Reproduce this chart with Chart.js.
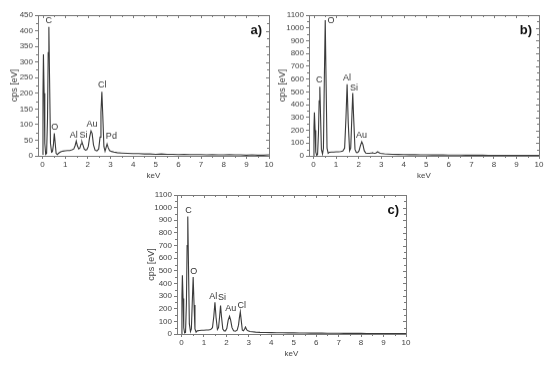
<!DOCTYPE html>
<html lang="en">
<head>
  <meta charset="UTF-8" />
  <title>EDS spectra</title>
  <style>
    body {
      margin: 0;
      padding: 0;
      background: #fff;
    }
    #wrap {
      position: relative;
      width: 554px;
      height: 367px;
      overflow: hidden;
    }
    canvas {
      position: absolute;
    }
  </style>
</head>
<body>
  <div id="wrap">
    <canvas id="chart-a"></canvas>
    <canvas id="chart-b"></canvas>
    <canvas id="chart-c"></canvas>
  </div>

  <script src="https://cdn.jsdelivr.net/npm/chart.js"></script>

  <script>
    // energy axis (keV), shared by the three spectra
    const energies = [
      0.00, 0.02, 0.04, 0.07, 0.10, 0.14, 0.18, 0.22, 0.25, 0.28,
      0.31, 0.35, 0.40, 0.44, 0.48, 0.52, 0.56, 0.60, 0.65, 0.70,
      0.80, 0.90, 1.00, 1.10, 1.20, 1.30, 1.38, 1.44, 1.49, 1.54,
      1.60, 1.65, 1.70, 1.74, 1.78, 1.84, 1.90, 1.96, 2.02, 2.08,
      2.14, 2.19, 2.25, 2.32, 2.40, 2.48, 2.54, 2.58, 2.62, 2.66,
      2.71, 2.76, 2.81, 2.85, 2.90, 2.96, 3.05, 3.15, 3.30, 3.50,
      3.75, 4.00, 4.25, 4.50, 4.75, 5.00, 5.25, 5.50, 5.75, 6.00,
      6.25, 6.50, 6.75, 7.00, 7.25, 7.50, 7.75, 8.00, 8.25, 8.50,
      8.75, 9.00, 9.25, 9.50, 9.75, 10.00
    ];

    // cps [eV] for each panel
    const countsA = [
      5, 200, 325, 200, 40, 5, 8, 120, 330, 412,
      250, 40, 12, 14, 35, 72, 40, 8, 4, 8,
      13, 15, 16, 17, 17, 19, 22, 33, 47, 32,
      22, 25, 38, 45, 36, 22, 18, 20, 30, 60,
      80, 72, 35, 18, 16, 22, 60, 140, 205, 130,
      30, 15, 28, 38, 26, 17, 14, 12, 10, 9,
      8, 7, 7, 6, 6, 5, 6, 5, 5, 4,
      5, 4, 4, 4, 3, 4, 3, 3, 4, 3,
      3, 2, 3, 2, 2, 3
    ];
    const countsB = [
      3, 220, 340, 200, 30, 5, 10, 180, 430, 540,
      330, 50, 15, 60, 600, 1060, 550, 60, 20, 28,
      30, 30, 32, 32, 34, 38, 60, 300, 560, 260,
      40, 60, 300, 490, 300, 50, 25, 25, 40, 80,
      110, 90, 40, 22, 20, 20, 22, 22, 24, 22,
      20, 22, 28, 32, 25, 20, 18, 16, 14, 12,
      11, 10, 9, 9, 8, 8, 7, 7, 7, 6,
      6, 6, 5, 5, 5, 5, 4, 4, 4, 4,
      3, 3, 3, 3, 3, 3
    ];
    const countsC = [
      3, 300, 465, 280, 50, 8, 12, 250, 700, 930,
      560, 80, 20, 40, 250, 450, 230, 40, 15, 25,
      28, 30, 30, 32, 32, 35, 50, 140, 250, 130,
      35, 50, 140, 225, 140, 40, 25, 25, 45, 110,
      140, 110, 50, 25, 22, 30, 70, 130, 175, 110,
      30, 25, 40, 55, 35, 25, 20, 18, 15, 13,
      12, 11, 10, 10, 9, 9, 8, 8, 7, 7,
      7, 6, 6, 6, 5, 5, 5, 5, 4, 4,
      4, 4, 3, 3, 3, 3
    ];

    // peak labels: element, energy, height of the label
    const peaksA = ['C', 'O', 'Al', 'Si', 'Au', 'Cl', 'Pd'];
    const peaksAx = [0.28, 0.54, 1.38, 1.81, 2.18, 2.64, 3.04];
    const peaksAy = [431, 90, 65, 65, 100, 225, 62];
    const peaksB = ['C', 'O', 'Al', 'Si', 'Au'];
    const peaksBx = [0.25, 0.78, 1.49, 1.80, 2.13];
    const peaksBy = [595, 1053, 607, 532, 159];
    const peaksC = ['C', 'O', 'Al', 'Si', 'Au', 'Cl'];
    const peaksCx = [0.31, 0.55, 1.42, 1.80, 2.19, 2.68];
    const peaksCy = [979, 498, 293, 288, 201, 222];

    // tick labels
    const xTicks = [0, 1, 2, 3, 4, 5, 6, 7, 8, 9, 10];
    const yTicksA = [0, 50, 100, 150, 200, 250, 300, 350, 400, 450];
    const yTicksBC = [0, 100, 200, 300, 400, 500, 600, 700, 800, 900, 1000, 1100];

    const FONT = "'Liberation Sans', Arial, sans-serif";
    const AXIS = '#7a7a7a';
    const M = { left: 38, top: 10, right: 10, bottom: 30 };

    // box around the plot, inner ticks on top/right, minor ticks, labels
    const framePlugin = {
      id: 'frame',
      afterDraw(chart, args, o) {
        const { ctx, chartArea: a, scales: { x, y } } = chart;
        ctx.save();
        ctx.strokeStyle = AXIS;
        ctx.lineWidth = 1;
        ctx.strokeRect(Math.round(a.left) + 0.5, Math.round(a.top) + 0.5,
          Math.round(a.right - a.left), Math.round(a.bottom - a.top));

        ctx.beginPath();
        for (let v = 0; v <= 10.001; v += 0.5) {
          const px = Math.round(x.getPixelForValue(v)) + 0.5;
          const major = Number.isInteger(v);
          const len = major ? 3 : 2;
          ctx.moveTo(px, a.top); ctx.lineTo(px, a.top + len);
          if (!major) { ctx.moveTo(px, a.bottom); ctx.lineTo(px, a.bottom + len); }
        }
        const half = o.step / 2;
        for (let v = 0; v <= o.max + 0.001; v += half) {
          const py = Math.round(y.getPixelForValue(v)) + 0.5;
          const major = (v % o.step) === 0;
          const len = major ? 3 : 2;
          ctx.moveTo(a.right, py); ctx.lineTo(a.right - len, py);
          if (!major) { ctx.moveTo(a.left, py); ctx.lineTo(a.left - len, py); }
        }
        ctx.stroke();

        ctx.fillStyle = '#333';
        ctx.textAlign = 'center';
        ctx.textBaseline = 'middle';
        ctx.font = '9px ' + FONT;
        o.names.forEach((n, i) => {
          ctx.fillText(n, x.getPixelForValue(o.px[i]), y.getPixelForValue(o.py[i]));
        });

        ctx.fillStyle = '#111';
        ctx.font = 'bold 13px ' + FONT;
        ctx.textAlign = 'right';
        ctx.fillText(o.letter, a.right - 7, a.top + 15);
        ctx.restore();
      }
    };

    function makePanel(id, area, counts, yTicks, step, names, px, py, letter, titlePad) {
      const canvas = document.getElementById(id);
      const w = area.w + M.left + M.right;
      const h = area.h + M.top + M.bottom;
      canvas.width = w;
      canvas.height = h;
      canvas.style.width = w + 'px';
      canvas.style.height = h + 'px';
      canvas.style.left = (area.left - M.left) + 'px';
      canvas.style.top = (area.top - M.top) + 'px';
      const max = yTicks[yTicks.length - 1];

      new Chart(canvas.getContext('2d'), {
        type: 'line',
        data: {
          datasets: [{
            data: energies.map((e, i) => ({ x: e, y: counts[i] })),
            borderColor: '#3a3a3a',
            borderWidth: 1.1,
            pointRadius: 0,
            tension: 0,
            fill: false
          }]
        },
        options: {
          responsive: false,
          animation: false,
          devicePixelRatio: 1,
          layout: { padding: { left: 0, top: M.top, right: M.right, bottom: 0 } },
          plugins: {
            legend: { display: false },
            tooltip: { enabled: false },
            frame: { names, px, py, letter, step, max }
          },
          scales: {
            x: {
              type: 'linear',
              min: -0.2,
              max: 10,
              afterBuildTicks: s => { s.ticks = xTicks.map(v => ({ value: v })); },
              afterFit: s => { s.height = M.bottom; },
              border: { display: false },
              grid: { drawOnChartArea: false, tickLength: 3, color: AXIS },
              ticks: { font: { family: FONT, size: 8 }, color: '#444', padding: 1, maxRotation: 0, callback: v => String(v) },
              title: { display: true, text: 'keV', font: { family: FONT, size: 8 }, color: '#444', padding: { top: 0, bottom: 5 } }
            },
            y: {
              min: 0,
              max: max,
              afterBuildTicks: s => { s.ticks = yTicks.map(v => ({ value: v })); },
              afterFit: s => { s.width = M.left; },
              border: { display: false },
              grid: { drawOnChartArea: false, tickLength: 3, color: AXIS },
              ticks: { font: { family: FONT, size: 8 }, color: '#444', padding: 2, callback: v => String(v) },
              title: { display: true, text: 'cps [eV]', font: { family: FONT, size: 9 }, color: '#444', padding: { top: titlePad, bottom: 0 } }
            }
          }
        },
        plugins: [framePlugin]
      });
    }

    makePanel('chart-a', { left: 38, top: 15, w: 231, h: 140.5 }, countsA, yTicksA, 50,
      peaksA, peaksAx, peaksAy, 'a)', 9.5);
    makePanel('chart-b', { left: 308.5, top: 15, w: 230.5, h: 140.5 }, countsB, yTicksBC, 100,
      peaksB, peaksBx, peaksBy, 'b)', 6.5);
    makePanel('chart-c', { left: 176.5, top: 194.5, w: 229, h: 139.5 }, countsC, yTicksBC, 100,
      peaksC, peaksCx, peaksCy, 'c)', 7.5);
  </script>
</body>
</html>
